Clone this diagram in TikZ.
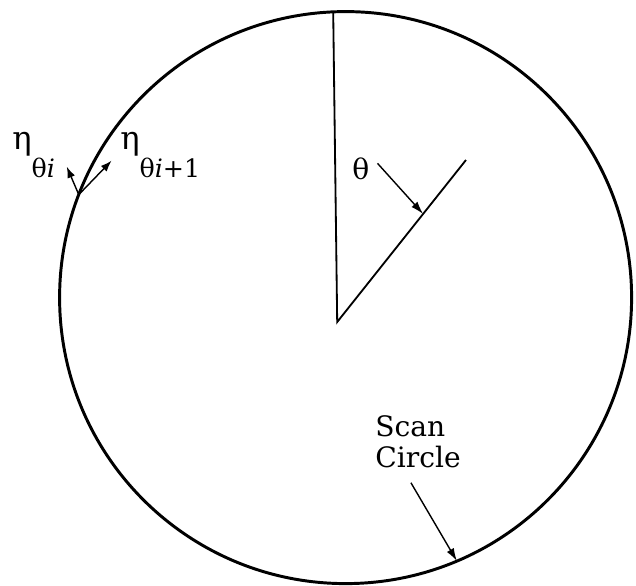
\documentclass[tikz,border=0pt]{standalone}
\usepackage{fontspec}
\setmainfont{DejaVu Serif}
\usetikzlibrary{positioning,arrows.meta,calc}

\newcommand{\lowsub}[1]{\raisebox{-20pt}{\fontsize{18}{18}\selectfont #1}}

\begin{document}
\begin{tikzpicture}[>={Latex[length=3.2mm,width=2mm]},scale=1.0,
  lbl/.style={inner sep=0pt,font=\fontsize{20}{22}\selectfont}]
  \def\R{7.15}
  \useasboundingbox (-8.64,-7.19) rectangle (7.26,7.44);
  % scan circle
  \coordinate (O) at (0,0);
  \draw[line width=2.1pt] (O) circle (\R);
  % angle
  \coordinate (V) at (-0.21,-0.61);
  \coordinate (T) at (-0.31,7.14);
  \coordinate (D) at (3.01,3.44);
  \draw[line width=1.3pt] (T) -- (V) -- (D);
  \node[lbl,anchor=base west] (th) at (0.16,2.94) {θ};
  \coordinate (thtip) at ($(V)!0.667!(D)$);
  \draw[->,line width=1pt] ([xshift=0.2cm,yshift=0.15cm]th.east) -- (thtip);
  % normals at the circle
  \coordinate (P) at (158.9:\R);
  \coordinate (Qi) at ($(P)+(-0.3,0.7)$);
  \coordinate (Qn) at ($(P)+(0.82,0.85)$);
  \draw[->,line width=1pt,>={Latex[length=2.8mm,width=2mm]}] (P) -- (Qi);
  \draw[->,line width=1pt,>={Latex[length=2.8mm,width=2mm]}] (P) -- (Qn);
  \node[lbl,anchor=base west,font=\fontsize{23}{23}\selectfont] (etai) at (-8.34,3.71) {η\lowsub{θ\textit{i}}};
  \node[lbl,anchor=base west,font=\fontsize{23}{23}\selectfont] (etaii) at (-5.64,3.71) {η\lowsub{θ\textit{i}+1}};
  % label of the circle
  \node[lbl,anchor=north west,align=left] (scan) at (0.74,-2.94) {Scan\\Circle};
  \coordinate (sc) at (-67.1:\R);
  \draw[->,line width=1pt] ([xshift=-0.18cm,yshift=-0.37cm]scan.south) -- (sc);
\end{tikzpicture}
\end{document}
